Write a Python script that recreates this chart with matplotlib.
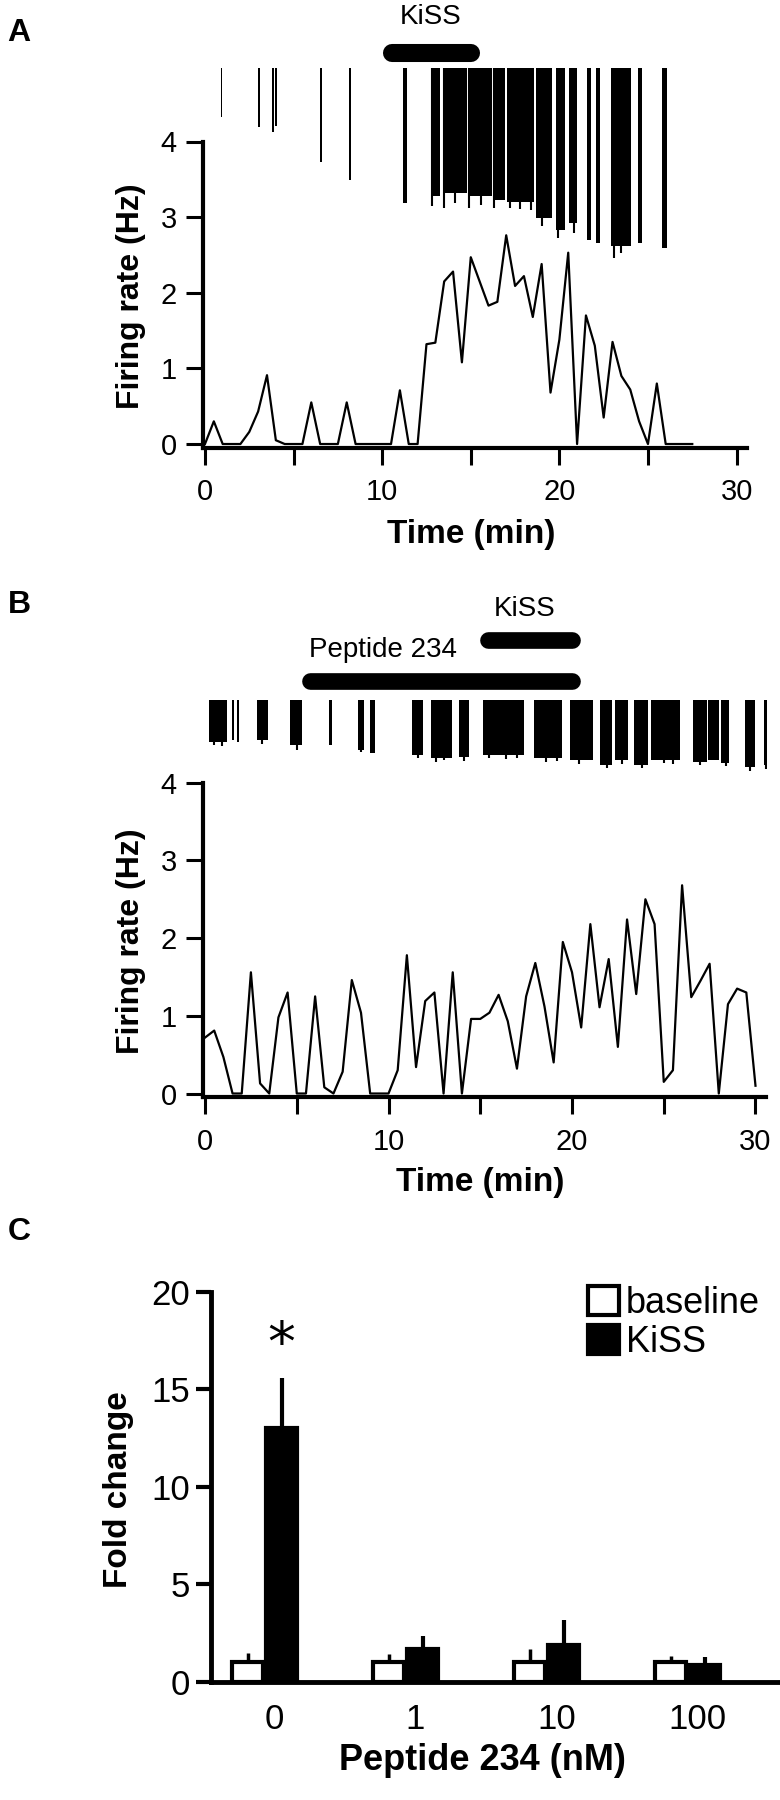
import numpy as np
import matplotlib.pyplot as plt
from matplotlib.patches import Patch

plt.rcParams['font.family'] = ['Liberation Sans', 'DejaVu Sans']

# firing rate in 30 s bins (Hz)
bin_min = 0.5
rate_a = [0, 0.30, 0, 0, 0, 0.16, 0.43, 0.91, 0.05, 0, 0, 0, 0.55, 0, 0, 0, 0.55, 0, 0, 0,
          0, 0, 0.71, 0, 0, 1.32, 1.34, 2.15, 2.28, 1.08, 2.47, 2.15, 1.83, 1.88, 2.76, 2.09,
          2.22, 1.68, 2.38, 0.68, 1.38, 2.53, 0, 1.7, 1.3, 0.35, 1.35, 0.9, 0.72, 0.3, 0, 0.8,
          0, 0, 0, 0]
rate_b = [0.72, 0.81, 0.47, 0, 0, 1.56, 0.13, 0, 0.98, 1.30, 0, 0, 1.25, 0.08, 0, 0.28,
          1.46, 1.04, 0, 0, 0, 0.30, 1.78, 0.34, 1.19, 1.30, 0, 1.56, 0, 0.96, 0.96, 1.04,
          1.27, 0.93, 0.32, 1.25, 1.68, 1.12, 0.40, 1.95, 1.56, 0.85, 2.18, 1.11, 1.73, 0.6,
          2.24, 1.28, 2.5, 2.18, 0.15, 0.3, 2.68, 1.24, 1.45, 1.67, 0, 1.15, 1.35, 1.3, 0.1]

# recorded trace: spike bursts (start, end in min) and their depth
burst_a_start = [0.88, 2.98, 3.8, 3.98, 6.48, 8.1, 11.17, 12.74, 13.48, 14.96, 16.31, 17.07,
                 18.7, 19.82, 20.52, 21.56, 22.04, 22.9, 24.45, 25.77]
burst_a_end = [0.98, 3.08, 3.9, 4.06, 6.62, 8.24, 11.42, 13.28, 14.77, 16.17, 16.93, 18.56,
               19.6, 20.3, 21.0, 21.76, 22.29, 24.03, 24.65, 26.1]
burst_a_depth = [49, 59, 64, 58, 94, 112, 135, 128, 125, 128, 132, 134, 150, 162, 155, 172,
                 175, 178, 175, 180]
spike_a_time = [12.8, 13.5, 14.1, 14.9, 15.6, 16.3, 17.2, 17.8, 18.4, 19.0, 19.9, 20.8, 23.1, 23.5]
spike_a_depth = [138, 140, 135, 140, 137, 140, 140, 141, 142, 158, 170, 165, 190, 185]

burst_b_start = [0.23, 1.45, 1.72, 2.83, 4.61, 6.75, 8.35, 9.01, 11.28, 12.3, 13.86, 15.13,
                 17.91, 19.91, 21.54, 22.36, 23.36, 24.32, 26.59, 27.43, 28.14, 29.43, 30.48]
burst_b_end = [1.18, 1.56, 1.85, 3.41, 5.28, 6.92, 8.68, 9.28, 11.86, 13.46, 14.4, 17.36,
               19.47, 21.14, 22.2, 23.03, 24.14, 25.87, 27.36, 28.03, 28.54, 29.97, 30.81]
burst_b_depth = [42, 40, 42, 40, 45, 45, 50, 53, 55, 58, 57, 55, 58, 60, 65, 60, 65, 60, 62,
                 60, 63, 67, 65]
spike_b_time = [0.5, 0.9, 3.1, 5.0, 8.5, 11.6, 12.6, 13.0, 14.1, 15.5, 16.4, 17.0, 18.6,
                19.2, 20.4, 21.9, 22.7, 23.8, 25.0, 25.5, 27.0, 28.4, 29.7, 30.6]
spike_b_depth = [45, 46, 44, 50, 52, 58, 62, 60, 61, 58, 59, 58, 62, 61, 64, 68, 64, 68, 63,
                 64, 65, 66, 71, 69]

kiss_a = (10.55, 15.0)
peptide_b = (5.7, 20.0)
kiss_b = (15.4, 20.0)

# panel C
doses = ['0', '1', '10', '100']
base_mean = [1.0, 1.0, 1.0, 1.0]
base_err = [0.45, 0.4, 0.7, 0.3]
kiss_mean = [13.0, 1.7, 1.9, 0.85]
kiss_err = [2.6, 0.65, 1.25, 0.4]

W, H = 780, 1800


def px_box(l, t, r, b):
    return [l / W, 1 - b / H, (r - l) / W, (b - t) / H]


def px(x, y):
    return x / W, 1 - y / H


fig = plt.figure(figsize=(W / 100, H / 100), dpi=100)


def trace_axes(box):
    ax = fig.add_axes(box)
    ax.set_xlim(-0.1, 30.6)
    ax.set_ylim(-0.05, 4)
    for s in ['top', 'right']:
        ax.spines[s].set_visible(False)
    for s in ['left', 'bottom']:
        ax.spines[s].set_linewidth(3)
    ax.set_xticks([0, 10, 20, 30])
    ax.set_xticks([5, 15, 25], minor=True)
    ax.set_yticks([0, 1, 2, 3, 4])
    ax.tick_params(which='both', direction='out', length=12, width=2.2, labelsize=21)
    ax.tick_params(axis='y', pad=7)
    ax.tick_params(axis='x', pad=10)
    return ax


def raster_axes(box, depth_max):
    ax = fig.add_axes(box)
    ax.set_xlim(-0.1, 30.6)
    ax.set_ylim(depth_max, 0)
    ax.axis('off')
    return ax


def drug_bar(ax, span, y, lw):
    ax.plot(span, [y, y], color='black', lw=lw, solid_capstyle='round', clip_on=False)


# ---- panel A ----
ax_a = trace_axes(px_box(203.2, 141.5, 747.2, 447.8))
t_a = np.arange(len(rate_a)) * bin_min
ax_a.plot(t_a, rate_a, color='black', lw=1.6)

ra = raster_axes(px_box(203.2, 68, 747.2, 268), 200)
ra.bar(burst_a_start, burst_a_depth, width=np.subtract(burst_a_end, burst_a_start),
       align='edge', color='black', lw=0)
ra.vlines(spike_a_time, 0, spike_a_depth, color='black', lw=1.5)
drug_bar(ra, kiss_a, -15, 13)
fig.text(*px(431, 17), 'KiSS', ha='center', va='center', fontsize=20)

fig.text(*px(19, 33), 'A', ha='center', va='center', fontsize=23, fontweight='bold')
fig.text(*px(131, 296), 'Firing rate (Hz)', rotation=90, ha='center', va='center',
         fontsize=23, fontweight='bold')
fig.text(*px(471, 534), 'Time (min)', ha='center', va='center', fontsize=24,
         fontweight='bold')

# ---- panel B ----
ax_b = trace_axes(px_box(203.2, 782.7, 766.5, 1097.4))
t_b = np.arange(len(rate_b)) * bin_min
ax_b.plot(t_b, rate_b, color='black', lw=1.6)

rb = raster_axes(px_box(203.2, 700, 766.5, 800), 100)
rb.bar(burst_b_start, burst_b_depth, width=np.subtract(burst_b_end, burst_b_start),
       align='edge', color='black', lw=0)
rb.vlines(spike_b_time, 0, spike_b_depth, color='black', lw=1.5)
drug_bar(rb, kiss_b, -60, 12)
drug_bar(rb, peptide_b, -19, 12)
fig.text(*px(525, 609), 'KiSS', ha='center', va='center', fontsize=20)
fig.text(*px(383, 650), 'Peptide 234', ha='center', va='center', fontsize=20)

fig.text(*px(19, 605), 'B', ha='center', va='center', fontsize=23, fontweight='bold')
fig.text(*px(131, 941), 'Firing rate (Hz)', rotation=90, ha='center', va='center',
         fontsize=23, fontweight='bold')
fig.text(*px(480, 1183), 'Time (min)', ha='center', va='center', fontsize=24,
         fontweight='bold')

# ---- panel C ----
ax_c = fig.add_axes(px_box(210.6, 1291.7, 780, 1681.7))
x = np.arange(len(doses))
bw = 0.22
ax_c.bar(x - 0.12, base_mean, bw, color='white', edgecolor='black', lw=3, zorder=3)
ax_c.bar(x + 0.12, kiss_mean, bw, color='black', edgecolor='black', lw=3, zorder=3)
ax_c.errorbar(x - 0.12, base_mean, yerr=[np.zeros(len(x)), base_err], fmt='none',
              ecolor='black', elinewidth=2.5, capsize=0, zorder=2)
ax_c.errorbar(x + 0.12, kiss_mean, yerr=[np.zeros(len(x)), kiss_err], fmt='none',
              ecolor='black', elinewidth=3, capsize=0, zorder=2)
ax_c.set_xlim(-0.383, 3.655)
ax_c.set_ylim(0, 20)
for s in ['top', 'right']:
    ax_c.spines[s].set_visible(False)
for s in ['left', 'bottom']:
    ax_c.spines[s].set_linewidth(3.5)
ax_c.set_yticks([0, 5, 10, 15, 20])
ax_c.set_xticks(x + 0.07)
ax_c.set_xticklabels(doses)
ax_c.tick_params(axis='y', direction='out', length=11, width=3, pad=4, labelsize=25)
ax_c.tick_params(axis='x', length=0, pad=15, labelsize=25)

ax_c.text(0.12, kiss_mean[0] + kiss_err[0] + 1.6, '*', ha='center', va='center',
          fontsize=40, family='DejaVu Sans')

handles = [Patch(facecolor='white', edgecolor='black', lw=3),
           Patch(facecolor='black', edgecolor='black', lw=3)]
ax_c.legend(handles, ['baseline', 'KiSS'], loc='upper left',
            bbox_to_anchor=px(588, 1286), bbox_transform=fig.transFigure,
            frameon=False, prop={'size': 26},
            handlelength=0.85, handleheight=0.85, handletextpad=0.2,
            borderpad=0, borderaxespad=0, labelspacing=0.1)

fig.text(*px(19, 1232), 'C', ha='center', va='center', fontsize=23, fontweight='bold')
fig.text(*px(118, 1490), 'Fold change', rotation=90, ha='center', va='center',
         fontsize=24, fontweight='bold')
fig.text(*px(482, 1760), 'Peptide 234 (nM)', ha='center', va='center', fontsize=26,
         fontweight='bold')

fig.savefig('out.png', dpi=100)
